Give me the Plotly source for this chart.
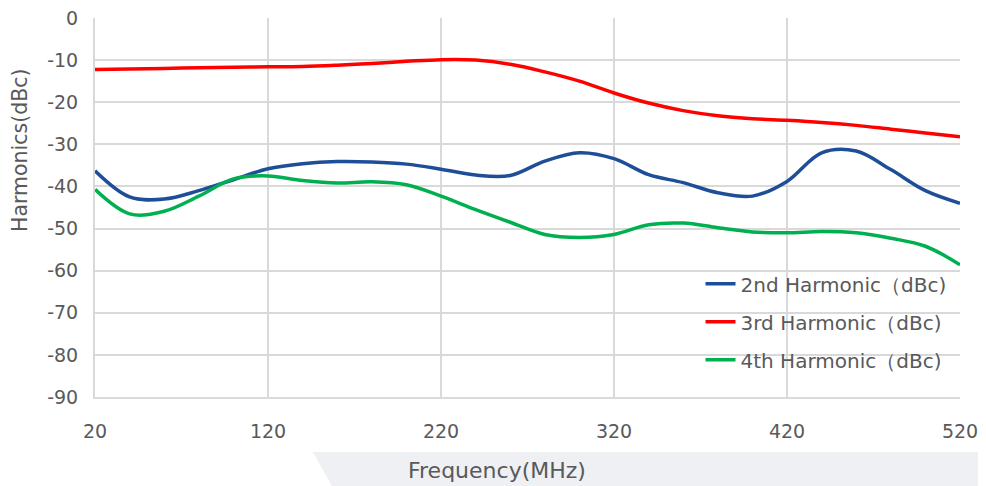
import plotly.graph_objects as go

freq = [20, 40, 60, 80, 100, 120, 140, 160, 180, 200, 220, 240, 260,
        280, 300, 320, 340, 360, 380, 400, 420, 440, 460, 480, 500, 520]

h2 = [-36.3, -42.5, -43.0, -41.0, -38.4, -35.8, -34.6, -34.1, -34.2, -34.7,
      -35.9, -37.3, -37.4, -34.0, -32.0, -33.4, -37.2, -39.1, -41.5, -42.3,
      -38.8, -32.0, -31.6, -36.0, -41.0, -44.0]

h3 = [-12.2, -12.1, -12.0, -11.8, -11.7, -11.6, -11.5, -11.2, -10.8, -10.3,
      -9.9, -10.0, -11.0, -12.8, -15.0, -17.8, -20.2, -22.0, -23.2, -23.9,
      -24.3, -24.8, -25.5, -26.4, -27.3, -28.2]

h4 = [-40.7, -46.5, -45.9, -42.3, -38.2, -37.5, -38.6, -39.2, -38.9, -39.6,
      -42.3, -45.5, -48.5, -51.4, -52.1, -51.4, -49.1, -48.7, -49.8, -50.8,
      -51.0, -50.7, -51.0, -52.3, -54.2, -58.6]

names = ["2nd Harmonic（dBc)", "3rd Harmonic（dBc)", "4th Harmonic（dBc)"]
colors = ["#1f4e99", "#ff0000", "#00b050"]

x_ticks = [20, 120, 220, 320, 420, 520]
y_ticks = [0, -10, -20, -30, -40, -50, -60, -70, -80, -90]

FONT = "DejaVu Sans"
TXT = "#595959"
GRID = "#d9d9d9"
BG2 = "#eff0f4"

fig = go.Figure()
for i, (vals, nm, col) in enumerate(zip([h2, h3, h4], names, colors)):
    fig.add_trace(go.Scatter(
        x=freq, y=vals, name=nm, mode="lines",
        line=dict(color=col, width=3.5, shape="spline", smoothing=1.0),
        legendgroup=f"g{i}",
    ))

fig.update_layout(
    width=978, height=478,
    margin=dict(l=87, r=26, t=10, b=89, autoexpand=False),
    paper_bgcolor="white", plot_bgcolor="white",
    font=dict(family=FONT, color=TXT, size=19),
    showlegend=True,
    legend=dict(
        x=0.70, y=0.35, xanchor="left", yanchor="top",
        bgcolor="rgba(0,0,0,0)", font=dict(size=20, color=TXT, family=FONT),
        tracegroupgap=9, traceorder="grouped",
    ),
    xaxis=dict(
        range=[20, 520], tickvals=x_ticks, ticktext=[str(v) for v in x_ticks],
        showgrid=True, gridcolor=GRID, gridwidth=2,
        showline=True, linecolor=GRID, linewidth=2, mirror=False,
        zeroline=False, ticks="", ticklabelstandoff=16, automargin=False,
        ticklabeloverflow="allow",
        tickfont=dict(size=19, color=TXT),
    ),
    yaxis=dict(
        range=[-90, 0], tickvals=y_ticks, ticktext=[str(v) for v in y_ticks],
        showgrid=True, gridcolor=GRID, gridwidth=2,
        showline=True, linecolor=GRID, linewidth=2,
        zeroline=False, ticks="", ticklabelstandoff=11, automargin=False,
        ticklabeloverflow="allow",
        tickfont=dict(size=19, color=TXT),
    ),
    shapes=[
        dict(type="path", xref="paper", yref="paper", layer="below",
             path="M 0.252 -0.1453 L 1.05 -0.1453 L 1.05 -0.26 L 0.2798 -0.26 Z",
             fillcolor=BG2, line=dict(width=0)),
        dict(type="rect", xref="paper", yref="paper", layer="below",
             x0=1.0266, x1=1.05, y0=-0.26, y1=1.06,
             fillcolor=BG2, line=dict(width=0)),
    ],
    annotations=[
        dict(text="Harmonics(dBc)", xref="paper", yref="paper",
             x=(20 - 95) / 865, y=(397 - 150) / 379, textangle=-90,
             showarrow=False, font=dict(size=20.5, color=TXT, family=FONT),
             xanchor="center", yanchor="middle"),
        dict(text="Frequency(MHz)", xref="paper", yref="paper",
             x=(497 - 95) / 865, y=(397 - 470) / 379,
             showarrow=False, font=dict(size=22, color=TXT, family=FONT),
             xanchor="center", yanchor="middle"),
    ],
)

fig.write_html("out.html")
